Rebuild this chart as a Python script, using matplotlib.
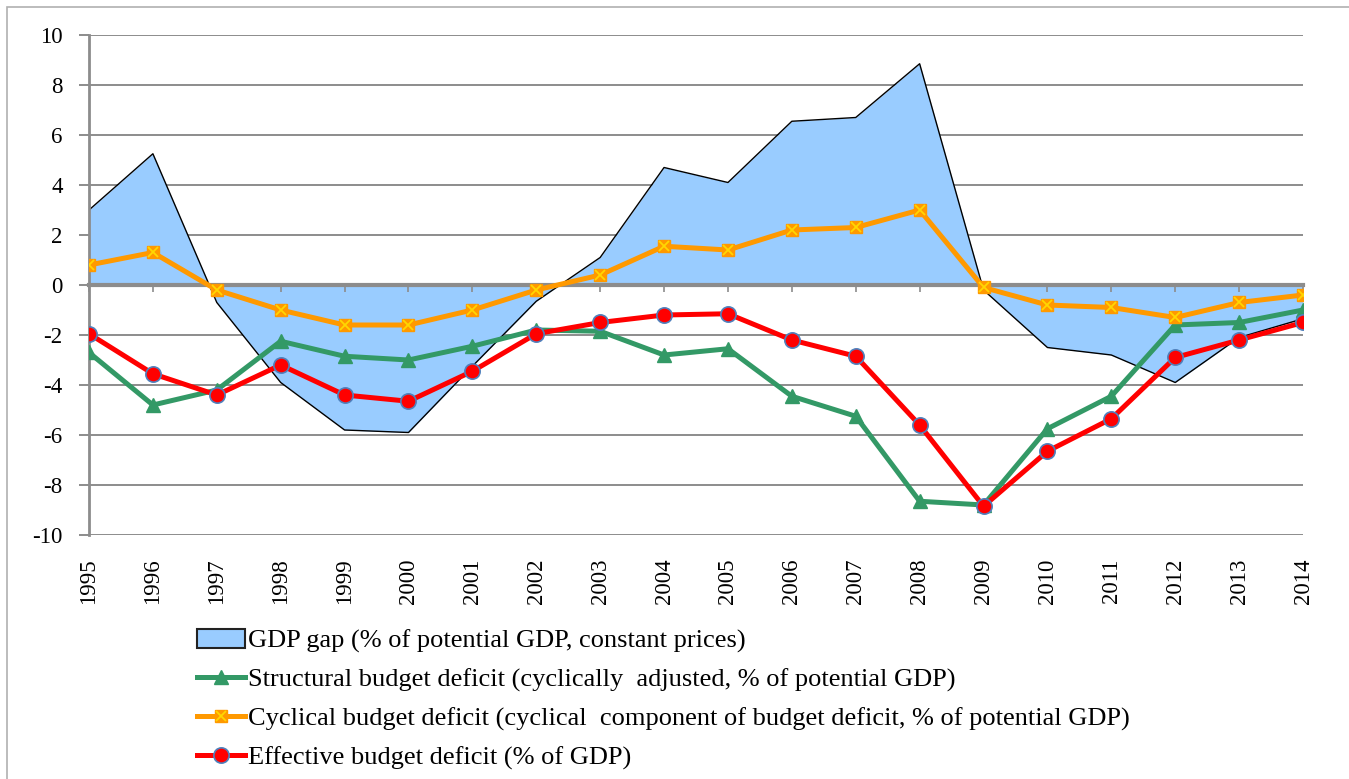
import matplotlib
matplotlib.use("Agg")
import matplotlib.pyplot as plt
from matplotlib.patches import Patch, Rectangle
from matplotlib.lines import Line2D
from matplotlib.legend_handler import HandlerTuple

years = [str(y) for y in range(1995, 2015)]
gdp_gap = [3.0, 5.25, -0.7, -3.9, -5.8, -5.9, -3.25, -0.65, 1.1, 4.7,
           4.1, 6.55, 6.7, 8.85, -0.2, -2.5, -2.8, -3.9, -2.1, -1.35]
structural = [-2.7, -4.8, -4.2, -2.25, -2.85, -3.0, -2.45, -1.8, -1.85, -2.8,
              -2.55, -4.45, -5.25, -8.65, -8.8, -5.75, -4.45, -1.6, -1.5, -1.0]
cyclical = [0.8, 1.3, -0.2, -1.0, -1.6, -1.6, -1.0, -0.2, 0.4, 1.55,
            1.4, 2.2, 2.3, 3.0, -0.1, -0.8, -0.9, -1.3, -0.7, -0.4]
effective = [-1.95, -3.55, -4.4, -3.2, -4.4, -4.65, -3.45, -1.95, -1.5, -1.2,
             -1.15, -2.2, -2.85, -5.6, -8.85, -6.65, -5.35, -2.9, -2.2, -1.5]
yticks = list(range(-10, 11, 2))

labels = ["GDP gap (% of potential GDP, constant prices)",
          "Structural budget deficit (cyclically  adjusted, % of potential GDP)",
          "Cyclical budget deficit (cyclical  component of budget deficit, % of potential GDP)",
          "Effective budget deficit (% of GDP)"]

plt.rcParams['font.family'] = ['Liberation Serif', 'DejaVu Serif']

W, H = 1349, 779
fig = plt.figure(figsize=(W / 100, H / 100), dpi=100)
fig.patches.append(Rectangle((7 / W, -0.01), 1.05, 1 - 7 / H + 0.01, transform=fig.transFigure,
                             fill=False, edgecolor='#b0b0b0', lw=1.2))

ax = fig.add_axes([89 / W, 1 - 535 / H, (1303 - 89) / W, (535 - 35) / H])
x = list(range(len(years)))

GRID = '#8c8c8c'
ax.set_ylim(-10, 10)
ax.set_xlim(0, len(years) - 1)
ax.set_yticks(yticks)
ax.set_yticklabels([str(t) for t in yticks], fontsize=16.5)
ax.yaxis.grid(True, color=GRID, lw=1.4, zorder=0)
ax.set_axisbelow(True)
ax.tick_params(axis='y', length=7, width=1.4, color=GRID, pad=12)
for s in ['top', 'right', 'bottom']:
    ax.spines[s].set_visible(False)
ax.spines['left'].set_color(GRID)
ax.spines['left'].set_linewidth(2)

ax.set_xticks(x)
ax.set_xticklabels(years, rotation=90, fontsize=16.5)
ax.tick_params(axis='x', length=0, pad=17)

# GDP gap area
ax.fill_between(x, 0, gdp_gap, color='#99CCFF', lw=0, zorder=1)
ax.plot(x, gdp_gap, color='black', lw=1.0, zorder=2)

# zero axis with ticks
sec = ax.secondary_xaxis(0.5)
sec.set_xticks(x)
sec.tick_params(axis='x', which='both', direction='in', length=5, width=1.2, color=GRID,
                labeltop=False, labelbottom=False)
for s in ['top', 'bottom']:
    sec.spines[s].set_color(GRID)
    sec.spines[s].set_linewidth(3)
sec.set_zorder(2.5)

GREEN = '#339966'
ORANGE = '#FF9900'
YELLOW = '#FFD700'
RED = '#FF0000'
BLUE_EDGE = '#4F81BD'

ax.plot(x, structural, color=GREEN, lw=3.6, marker='^', ms=10, zorder=4)
ax.plot(x, cyclical, color=ORANGE, lw=3.6, marker='s', ms=8.5, zorder=4)
ax.plot(x, cyclical, ls='none', marker='x', ms=7.5, mew=1.3, color=YELLOW, zorder=5)
ax.plot(x, effective, color=RED, lw=3.6, marker='o', ms=11, mfc=RED, mec=BLUE_EDGE, mew=1.2, zorder=6)

h_gap = Patch(facecolor='#99CCFF', edgecolor='#222222', lw=1.5)
h_str = Line2D([], [], color=GREEN, lw=3.6, marker='^', ms=10)
h_cyc1 = Line2D([], [], color=ORANGE, lw=3.6, marker='s', ms=8.5)
h_cyc2 = Line2D([], [], ls='none', color=YELLOW, marker='x', ms=7.5, mew=1.3)
h_eff = Line2D([], [], color=RED, lw=3.6, marker='o', ms=11, mfc=RED, mec=BLUE_EDGE, mew=1.2)

leg = fig.legend([h_gap, h_str, (h_cyc1, h_cyc2), h_eff], labels,
                 handler_map={tuple: HandlerTuple(ndivide=1, pad=0)},
                 loc='upper left', bbox_to_anchor=(197 / W, 1 - 629 / H),
                 frameon=False, fontsize=19, handlelength=1.8, handletextpad=0.12,
                 handleheight=0.75, labelspacing=0.55, borderaxespad=0, borderpad=0)

fig.savefig('out.png', dpi=100)
